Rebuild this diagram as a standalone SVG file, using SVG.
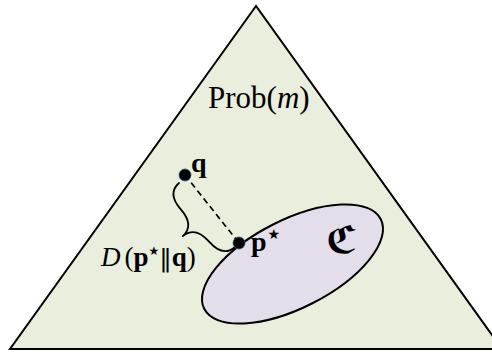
<svg xmlns="http://www.w3.org/2000/svg" width="492" height="352" viewBox="0 0 492 352">
  <style>
    .serif { font-family: "Liberation Serif", "DejaVu Serif", serif; fill: #000; }
    .sym { font-family: "DejaVu Serif", "DejaVu Sans", serif; fill: #000; }
    .star { font-family: "DejaVu Sans", sans-serif; fill: #000; font-weight: normal; font-style: normal; }
    .dot { fill: #000; stroke: #2c4f80; stroke-width: 0.8; }
    .edge { fill: none; stroke: #000; stroke-width: 1.8; stroke-linecap: round; }
  </style>
  <rect width="492" height="352" fill="#ffffff"/>
  <g id="simplex">
    <polygon points="256,6 10,349 502,349" fill="#eaeedc" stroke="#000" stroke-width="2" stroke-linejoin="miter"/>
    <text class="serif" x="208" y="108" font-size="31">Prob(<tspan font-style="italic">m</tspan>)</text>
  </g>
  <g id="set-C">
    <ellipse cx="292.5" cy="264" rx="99" ry="44" transform="rotate(-26.9 292.5 264)" fill="#e3deea" stroke="#000" stroke-width="2"/>
    <text class="sym" x="326" y="253" font-size="38" font-weight="bold">ℭ</text>
  </g>
  <g id="connectors">
    <line x1="185" y1="175" x2="239" y2="243" stroke="#000" stroke-width="1.7" stroke-dasharray="6,4"/>
    <g transform="translate(179 183) rotate(48.8)">
      <path class="edge" d="M0,0 Q0,16 21,16 T42.5,32 M85,0 Q85,16 64,16 T42.5,32"/>
    </g>
    <text class="serif" x="101" y="266" font-size="27"><tspan font-style="italic">D</tspan><tspan dx="4">(</tspan><tspan font-weight="bold">p</tspan><tspan class="star" font-size="12" dy="-11">★</tspan><tspan class="sym" dy="11" font-size="25">‖</tspan><tspan font-weight="bold">q</tspan>)</text>
  </g>
  <g id="node-q">
    <circle class="dot" cx="185" cy="175" r="6"/>
    <text class="serif" x="191" y="172" font-size="28" font-weight="bold">q</text>
  </g>
  <g id="node-pstar">
    <circle class="dot" cx="239" cy="243" r="6"/>
    <text class="serif" x="251" y="251" font-size="28" font-weight="bold">p<tspan class="star" font-size="14" dy="-12" dx="1">★</tspan></text>
  </g>
</svg>
